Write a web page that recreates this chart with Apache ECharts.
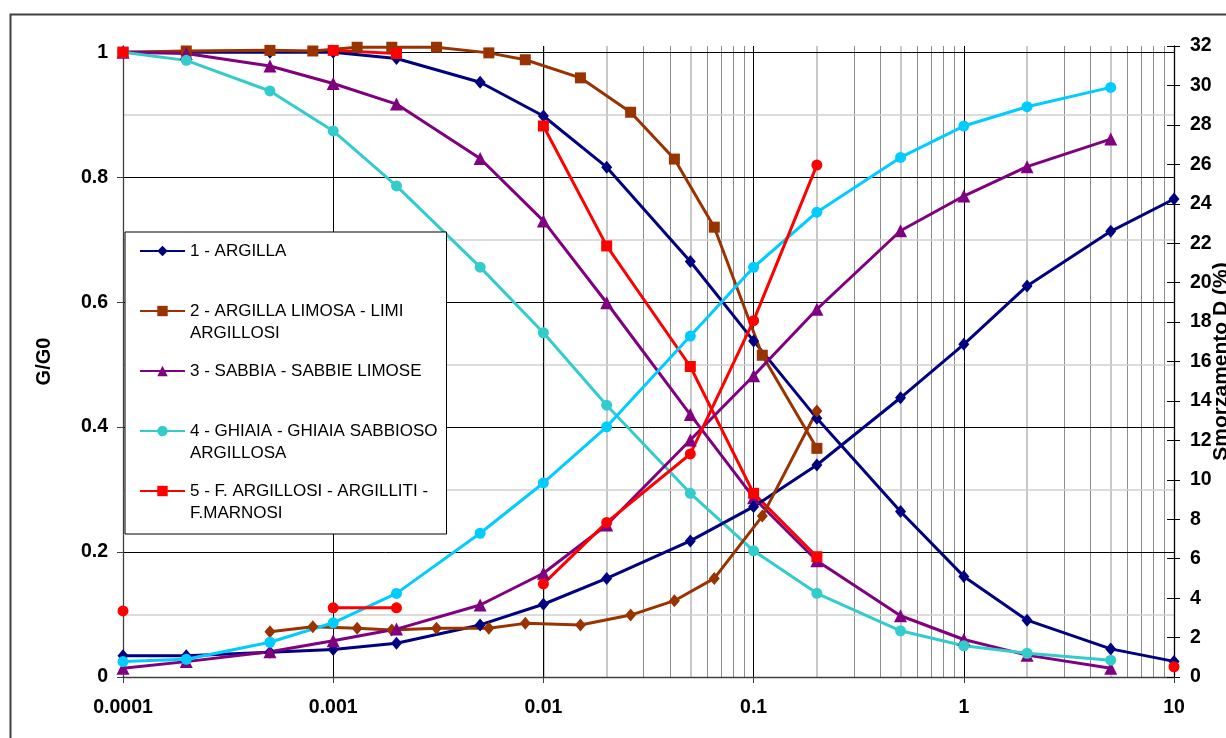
<!DOCTYPE html>
<html><head><meta charset="utf-8">
<script src="https://cdn.jsdelivr.net/npm/echarts@6/dist/echarts.min.js"></script>
<style>html,body{margin:0;padding:0;background:#fff}#c{width:1226px;height:738px}</style>
</head><body><div id="c"></div>
<script>
// ---- tick labels ----
const xTickValues = [0.0001, 0.001, 0.01, 0.1, 1, 10];
const xTickLabels = ['0.0001', '0.001', '0.01', '0.1', '1', '10'];
const leftTickValues = [0, 0.2, 0.4, 0.6, 0.8, 1];
const leftTickLabels = ['0', '0.2', '0.4', '0.6', '0.8', '1'];

// ---- series names (legend) ----
const seriesNames = [
  '1 - ARGILLA',
  '2 - ARGILLA LIMOSA - LIMI ARGILLOSI',
  '3 - SABBIA - SABBIE LIMOSE',
  '4 - GHIAIA - GHIAIA SABBIOSO ARGILLOSA',
  '5 - F. ARGILLOSI - ARGILLITI - F.MARNOSI'
];
const legendLabels = [
  '1 - ARGILLA',
  '2 - ARGILLA LIMOSA - LIMI\nARGILLOSI',
  '3 - SABBIA - SABBIE LIMOSE',
  '4 - GHIAIA - GHIAIA SABBIOSO\nARGILLOSA',
  '5 - F. ARGILLOSI - ARGILLITI -\nF.MARNOSI'
];

// ---- 1 - ARGILLA ----
const x1 = [0.0001, 0.0002, 0.0005, 0.001, 0.002, 0.005, 0.01, 0.02, 0.05, 0.1, 0.2, 0.5, 1, 2, 5, 10];
const g1 = [1.0, 1.0, 1.0, 1.0, 0.99, 0.952, 0.898, 0.816, 0.665, 0.538, 0.414, 0.265, 0.161, 0.091, 0.045, 0.025];
const d1 = [1.08, 1.08, 1.25, 1.40, 1.71, 2.64, 3.69, 5.0, 6.9, 8.64, 10.75, 14.16, 16.87, 19.83, 22.6, 24.24];

// ---- 2 - ARGILLA LIMOSA ----
const x2g = [0.0001, 0.0002, 0.0005, 0.0008, 0.0013, 0.0019, 0.0031, 0.0055, 0.0082, 0.015, 0.026, 0.042, 0.065, 0.11, 0.2];
const g2 = [1.0, 1.002, 1.003, 1.002, 1.008, 1.008, 1.008, 0.999, 0.988, 0.959, 0.904, 0.829, 0.72, 0.515, 0.366];
const x2d = [0.0005, 0.0008, 0.0013, 0.0019, 0.0031, 0.0055, 0.0082, 0.015, 0.026, 0.042, 0.065, 0.11, 0.2];
const d2 = [2.30, 2.55, 2.47, 2.38, 2.47, 2.47, 2.72, 2.64, 3.14, 3.87, 5.0, 8.16, 13.49];

// ---- 3 - SABBIA ----
const x3 = [0.0001, 0.0002, 0.0005, 0.001, 0.002, 0.005, 0.01, 0.02, 0.05, 0.1, 0.2, 0.5, 1, 2, 5];
const g3 = [1.0, 0.998, 0.978, 0.95, 0.917, 0.83, 0.73, 0.599, 0.42, 0.287, 0.186, 0.098, 0.060, 0.035, 0.014];
const d3 = [0.44, 0.78, 1.28, 1.84, 2.43, 3.65, 5.26, 7.71, 12.02, 15.28, 18.65, 22.63, 24.39, 25.88, 27.28];

// ---- 4 - GHIAIA ----
const x4 = [0.0001, 0.0002, 0.0005, 0.001, 0.002, 0.005, 0.01, 0.02, 0.05, 0.1, 0.2, 0.5, 1, 2, 5];
const g4 = [1.0, 0.987, 0.938, 0.874, 0.786, 0.656, 0.551, 0.435, 0.294, 0.202, 0.134, 0.074, 0.050, 0.038, 0.027];
const d4 = [0.78, 0.90, 1.76, 2.75, 4.24, 7.29, 9.84, 12.69, 17.29, 20.78, 23.57, 26.35, 27.94, 28.92, 29.9];

// ---- 5 - F. ARGILLOSI (null = gap) ----
const x5g = [0.0001, 0.0005, 0.001, 0.002, 0.005, 0.01, 0.02, 0.05, 0.1, 0.2];
const g5 = [1.0, null, 1.003, 0.998, null, 0.882, 0.69, 0.497, 0.294, 0.1925];
const x5d = [0.0001, 0.0005, 0.001, 0.002, 0.005, 0.01, 0.02, 0.05, 0.1, 0.2, 0.5, 10];
const d5 = [3.35, null, 3.51, 3.51, null, 4.72, 7.84, 11.31, 18.07, 25.96, null, 0.52];

// ---- styles ----
const FONT = 'Liberation Sans, Arial, sans-serif';
const C_NAVY = '#000080', C_BROWN = '#993300', C_PURPLE = '#800080', C_TURQ = '#33CCCC', C_CYAN = '#00CCFF', C_RED = '#FF0000';

function pts(xs, ys) { return xs.map((x, i) => ys[i] == null ? [x, '-'] : [x, ys[i]]); }

function mk(name, xs, ys, axis, color, symbol, size) {
  return {
    type: 'line', name: name, xAxisIndex: 0, yAxisIndex: axis,
    data: pts(xs, ys), symbol: symbol, symbolSize: size, showSymbol: true,
    connectNulls: false, color: color,
    lineStyle: { color: color, width: 3 },
    itemStyle: { color: color },
    emphasis: { disabled: true }, silent: true, z: 2
  };
}

// grid lines (styling only)
const gridLines = [];
for (let e = -4; e < 1; e++) {
  for (let k = 2; k <= 9; k++) {
    const light = (k === 2 || k === 5);
    gridLines.push({ xAxis: k * Math.pow(10, e),
      lineStyle: light ? { color: '#c8c8c8', width: 2, type: 'solid' } : { color: '#8c8c8c', width: 1, type: 'solid' } });
  }
}
[0.1, 0.3, 0.5, 0.7, 0.9].forEach(v => gridLines.push({ yAxis: v, lineStyle: { color: '#d0d0d0', width: 1.5, type: 'solid' } }));
[0.2, 0.4, 0.6, 0.8, 1].forEach(v => gridLines.push({ yAxis: v, lineStyle: { color: '#000', width: 1, type: 'solid' } }));

const series = [
  { type: 'line', name: '__grid', data: [], xAxisIndex: 0, yAxisIndex: 0, silent: true,
    markLine: { silent: true, symbol: ['none', 'none'], label: { show: false }, z: 0, animation: false,
      emphasis: { disabled: true }, data: gridLines } },
  mk(seriesNames[0], x1, g1, 0, C_NAVY, 'diamond', [11, 13]),
  mk(seriesNames[1], x2g, g2, 0, C_BROWN, 'rect', 11),
  mk(seriesNames[2], x3, g3, 0, C_PURPLE, 'triangle', 13),
  mk(seriesNames[3], x4, g4, 0, C_TURQ, 'circle', 11),
  mk(seriesNames[4], x5g, g5, 0, C_RED, 'rect', 11),
  mk('D ' + seriesNames[0], x1, d1, 1, C_NAVY, 'diamond', [11, 13]),
  mk('D ' + seriesNames[1], x2d, d2, 1, C_BROWN, 'diamond', [11, 13]),
  mk('D ' + seriesNames[2], x3, d3, 1, C_PURPLE, 'triangle', 13),
  mk('D ' + seriesNames[3], x4, d4, 1, C_CYAN, 'circle', 11),
  mk('D ' + seriesNames[4], x5d, d5, 1, C_RED, 'circle', 11)
];

const chart = echarts.init(document.getElementById('c'), null, { renderer: 'canvas' });
chart.setOption({
  animation: false,
  backgroundColor: '#ffffff',
  textStyle: { fontFamily: FONT },
  grid: { left: 123, right: 52, top: 46, bottom: 61, containLabel: false, outerBoundsMode: 'none' },
  graphic: [{ type: 'rect', left: 8, top: 12, z: 10, silent: true,
    shape: { width: 1240, height: 740 }, style: { fill: 'none', stroke: '#404040', lineWidth: 2 } }],
  legend: {
    data: seriesNames, orient: 'vertical', left: 125, top: 232,
    itemWidth: 45, itemHeight: 13, itemGap: -6,
    padding: [-14, 9, 10, 14],
    backgroundColor: '#fff', borderColor: '#000', borderWidth: 1, borderRadius: 0,
    selectedMode: false,
    textStyle: { fontSize: 17, fontFamily: FONT, color: '#000', lineHeight: 22 },
    formatter: function (name) {
      const t = legendLabels[seriesNames.indexOf(name)];
      return '\n' + t + (t.indexOf('\n') < 0 ? '\n ' : '');
    },
    z: 4
  },
  xAxis: [{
    type: 'log', logBase: 10, min: 0.0001, max: 10, z: 1,
    axisLine: { show: true, onZero: false, lineStyle: { color: '#404040', width: 1.3 } },
    axisTick: { show: true, inside: false, length: 6, lineStyle: { color: '#404040' } },
    splitLine: { show: true, lineStyle: { color: '#000', width: 1 } },
    minorTick: { show: false }, minorSplitLine: { show: false },
    axisLabel: { margin: 21, fontSize: 19.5, fontWeight: 'bold', color: '#000', fontFamily: FONT,
      formatter: function (v) {
        for (let i = 0; i < xTickValues.length; i++) if (Math.abs(Math.log10(v) - Math.log10(xTickValues[i])) < 1e-6) return xTickLabels[i];
        return '';
      } }
  }],
  yAxis: [{
    type: 'value', min: 0, max: 1.01, position: 'left', z: 1,
    name: 'G/G0', nameLocation: 'middle', nameRotate: 90, nameGap: 69, nameMoveOverlap: false,
    nameTextStyle: { fontSize: 20, fontWeight: 'bold', color: '#000', fontFamily: FONT },
    axisLine: { show: true, onZero: false, lineStyle: { color: '#404040', width: 1.3 } },
    axisTick: { show: true, inside: false, length: 6, customValues: leftTickValues, lineStyle: { color: '#404040' } },
    splitLine: { show: false },
    axisLabel: { margin: 15, fontSize: 19.5, fontWeight: 'bold', color: '#000', fontFamily: FONT,
      customValues: leftTickValues,
      formatter: function (v) { const i = leftTickValues.findIndex(t => Math.abs(t - v) < 1e-9); return i >= 0 ? leftTickLabels[i] : ''; } }
  }, {
    type: 'value', min: 0, max: 32, interval: 2, position: 'right', z: 1,
    name: 'Smorzamento D (%)', nameLocation: 'middle', nameRotate: 90, nameGap: 37, nameMoveOverlap: false,
    nameTextStyle: { fontSize: 21, fontWeight: 'bold', color: '#000', fontFamily: FONT },
    axisLine: { show: true, onZero: false, lineStyle: { color: '#000', width: 1.3 } },
    axisTick: { show: true, inside: false, length: 6, lineStyle: { color: '#000' } },
    splitLine: { show: false },
    axisLabel: { margin: 16, fontSize: 19.5, fontWeight: 'bold', color: '#000', fontFamily: FONT }
  }, {
    type: 'value', min: 0, max: 32, interval: 2, position: 'right', z: 1,
    axisLine: { show: false },
    axisTick: { show: true, inside: true, length: 7, lineStyle: { color: '#000' } },
    splitLine: { show: false }, axisLabel: { show: false }
  }],
  series: series
});
</script></body></html>
